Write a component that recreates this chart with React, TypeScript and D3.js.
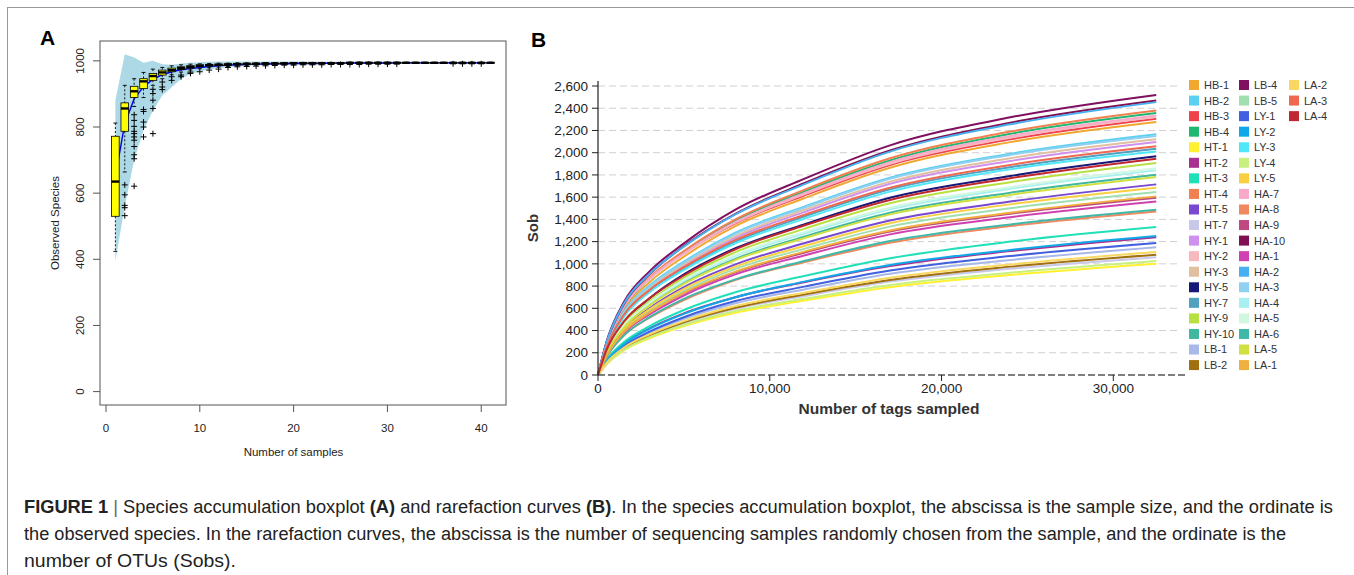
import React from 'react';
import * as d3 from 'd3';

// ---------- Panel A: species accumulation boxplot ----------
const sampleCounts = [1,2,3,4,5,6,7,8,9,10,11,12,13,14,15,16,17,18,19,20,21,22,23,24,25,26,27,28,29,30,31,32,33,34,35,36,37,38,39,40,41];
const boxLow = [424,664,862,889,926,946,958,966,972,976,979,981,983,985,986,987,988,988,989,989,990,990,990,990,991,991,991,991,991,991,992,992,992,992,992,992,992,993,993,993,993];
const boxQ1 = [530,787,889,916,941,957,967,974,978,982,984,986,987,988,989,990,990,991,991,992,992,992,992,992,993,993,993,993,993,993,993,993,993,993,993,993,994,994,994,994,994];
const boxMedian = [635,856,908,938,954,965,972,978,982,985,987,988,989,990,991,991,992,992,992,993,993,993,993,993,993,994,994,994,994,994,994,994,994,994,994,994,994,994,994,994,994];
const boxQ3 = [772,873,923,946,962,972,978,982,985,988,989,990,991,992,992,993,993,993,994,994,994,994,994,994,994,995,995,995,995,995,995,995,995,995,995,995,995,995,995,995,995];
const boxHigh = [812,926,946,965,975,980,985,988,990,991,992,993,993,994,994,994,995,995,995,995,995,995,995,995,995,996,996,996,996,996,996,996,996,996,996,996,996,996,996,996,996];
const meanCurve = [650,810,885,922,944,958,967,973,977,980,983,985,987,988,989,990,990,991,991,992,992,992,992,993,993,993,993,993,993,993,994,994,994,994,994,994,994,994,994,994,994];
const bandUpper = [880,1020,1010,994,1000,990,988,992,994,996,997,998,998,998,998,998,998,998,998,998,998,997,997,997,997,997,997,997,997,997,997,997,997,997,996,996,996,996,996,996,996];
const bandLower = [395,560,700,790,850,895,920,945,960,968,974,978,981,983,985,986,987,988,989,989,990,990,990,991,991,991,991,991,992,992,992,992,992,992,993,993,993,993,993,993,993];
const outlierN = [2,2,2,2,2, 3,3,3,3,3,3,3,3,3,3,3, 4,4,4,4,4, 5,5,5,5,5, 6,6,6, 7,7, 8,8, 9,9, 10, 11, 12, 13,14,15,16,17,18,19,20,21,22,23,24,25,26,27,28,29,30,31, 37,38,39,40];
const outlierValue = [625,595,563,556,532, 837,820,802,787,780,770,760,741,716,704,621, 853,847,815,800,770, 914,901,881,856,780, 936,921,913, 952,941, 957,952, 962,966, 967, 972, 975, 980,982,983,984,985,986,987,987,988,988,988,989,989,989,989,990,990,990,990, 991,991,991,991];
const aYTicks = [0,200,400,600,800,1000];
const aXTicks = [0,10,20,30,40];

// ---------- Panel B: rarefaction curves ----------
const tagSteps = [0,500,1500,3000,5000,8000,12000,17000,24000,32500];
const sampleNames = ['HB-1','HB-2','HB-3','HB-4','HT-1','HT-2','HT-3','HT-4','HT-5','HT-7','HY-1','HY-2','HY-3','HY-5','HY-7','HY-9','HY-10','LB-1','LB-2','LB-4','LB-5','LY-1','LY-2','LY-3','LY-4','LY-5','HA-7','HA-8','HA-9','HA-10','HA-1','HA-2','HA-3','HA-4','HA-5','HA-6','LA-5','LA-1','LA-2','LA-3','LA-4'];
const sampleColors = ['#F0A830','#5BD0F0','#F0404A','#20B870','#FFF030','#A83090','#20E0B8','#F08050','#7848D0','#C8C8E8','#D090F0','#F8B8C0','#E0C0A0','#181878','#50A0C0','#B8E040','#40B8A0','#A8B8E8','#A07010','#801060','#A0E0B0','#4060E0','#10A8E8','#50E8F8','#C8F080','#F8D040','#F8A8C8','#F08860','#C04880','#801050','#D040B0','#48B0F0','#90D0F0','#A8F0F0','#D0F8E0','#40B8A8','#D0E040','#F0B040','#F8D860','#F06850','#C02830'];
const sobValues = [
  [0,265,585,835,1065,1340,1590,1865,2095,2276], // HB-1
  [0,260,565,805,1020,1280,1515,1775,1990,2165], // HB-2
  [0,290,620,870,1095,1365,1615,1890,2120,2306], // HB-3
  [0,275,605,865,1105,1390,1650,1930,2170,2357], // HB-4
  [0,95,220,330,440,560,670,790,900,1001],       // HT-1
  [0,130,280,420,555,700,835,980,1115,1240],     // HT-2
  [0,135,295,440,585,745,890,1050,1200,1331],    // HT-3
  [0,280,615,875,1115,1400,1665,1950,2190,2380], // HT-4
  [0,190,410,600,790,995,1185,1390,1560,1715],   // HT-5
  [0,100,230,350,465,595,710,840,955,1060],      // HT-7
  [0,245,540,775,985,1235,1465,1720,1925,2096],  // HY-1
  [0,285,615,865,1090,1370,1625,1900,2135,2320], // HY-2
  [0,250,550,785,995,1250,1485,1740,1950,2120],  // HY-3
  [0,215,470,690,905,1140,1355,1595,1790,1967],  // HY-5
  [0,240,530,755,955,1200,1425,1670,1870,2036],  // HY-7
  [0,210,460,665,875,1105,1315,1545,1735,1907],  // HY-9
  [0,200,430,630,830,1045,1245,1460,1640,1802],  // HY-10
  [0,110,250,380,505,645,770,910,1035,1150],     // LB-1
  [0,105,235,355,475,605,725,855,975,1082],      // LB-2
  [0,302,655,932,1184,1487,1764,2066,2318,2520], // LB-4
  [0,180,395,575,755,955,1135,1335,1500,1646],   // LB-5
  [0,120,260,390,520,665,795,940,1070,1187],     // LY-1
  [0,125,275,415,550,700,840,990,1125,1250],     // LY-2
  [0,235,520,745,945,1185,1405,1650,1850,2010],  // LY-3
  [0,100,225,340,450,575,685,810,920,1025],      // LY-4
  [0,185,405,590,775,975,1160,1365,1535,1685],   // LY-5
  [0,280,610,865,1095,1375,1635,1915,2150,2335], // HA-7
  [0,160,355,515,675,855,1015,1190,1340,1472],   // HA-8
  [0,180,385,560,735,925,1100,1290,1450,1595],   // HA-9
  [0,290,635,905,1160,1450,1725,2020,2270,2470], // HA-10
  [0,170,375,545,715,905,1075,1265,1420,1560],   // HA-1
  [0,295,640,910,1155,1445,1715,2010,2255,2455], // HA-2
  [0,255,560,795,1010,1270,1505,1765,1980,2150], // HA-3
  [0,200,440,645,845,1070,1270,1490,1675,1841],  // HA-4
  [0,205,445,650,855,1080,1285,1505,1690,1860],  // HA-5
  [0,165,355,520,685,860,1025,1205,1355,1487],   // HA-6
  [0,195,425,625,820,1035,1230,1445,1620,1781],  // LA-5
  [0,175,385,560,740,930,1110,1300,1460,1607],   // LA-1
  [0,110,245,365,485,620,740,875,995,1106],      // LA-2
  [0,250,540,765,970,1215,1440,1685,1890,2057],  // LA-3
  [0,225,480,690,895,1130,1345,1575,1770,1946],  // LA-4
];
const bYTicks = [0,200,400,600,800,1000,1200,1400,1600,1800,2000,2200,2400,2600];
const bXTicks = [0,10000,20000,30000];

const FONT = "'Liberation Sans', Arial, Helvetica, sans-serif";

function PanelA() {
  const x = d3.scaleLinear().domain([-0.64, 42.64]).range([100, 506]);
  const y = d3.scaleLinear().domain([-40.5, 1060]).range([405, 41]);
  const band = d3.area<number>()
    .x((_, i) => x(sampleCounts[i]))
    .y0((_, i) => y(bandLower[i]))
    .y1((_, i) => y(bandUpper[i]));
  const meanLine = d3.line<number>().x((_, i) => x(sampleCounts[i])).y(d => y(d));
  const bw = 7.6;
  return (
    <g>
      <text x={40} y={45} fontFamily={FONT} fontWeight="bold" fontSize={21}>A</text>
      <path d={band(bandUpper) || ''} fill="#ADD8E6" stroke="none" />
      <path d={meanLine(meanCurve) || ''} fill="none" stroke="#0000EE" strokeWidth={1.4} />
      {sampleCounts.map((n, i) => {
        const cx = x(n);
        return (
          <g key={n}>
            <line x1={cx} x2={cx} y1={y(boxHigh[i])} y2={y(boxQ3[i])} stroke="#000" strokeWidth={0.9} strokeDasharray="2,2" />
            <line x1={cx} x2={cx} y1={y(boxQ1[i])} y2={y(boxLow[i])} stroke="#000" strokeWidth={0.9} strokeDasharray="2,2" />
            <line x1={cx - 2} x2={cx + 2} y1={y(boxHigh[i])} y2={y(boxHigh[i])} stroke="#000" strokeWidth={0.9} />
            <line x1={cx - 2} x2={cx + 2} y1={y(boxLow[i])} y2={y(boxLow[i])} stroke="#000" strokeWidth={0.9} />
            <rect x={cx - bw / 2} y={y(boxQ3[i])} width={bw} height={Math.max(0.5, y(boxQ1[i]) - y(boxQ3[i]))} fill="#FFFF00" stroke="#000" strokeWidth={0.8} />
            <line x1={cx - bw / 2} x2={cx + bw / 2} y1={y(boxMedian[i])} y2={y(boxMedian[i])} stroke="#000" strokeWidth={2.4} />
          </g>
        );
      })}
      {outlierN.map((n, i) => {
        const cx = x(n), cy = y(outlierValue[i]);
        return (
          <path key={i} d={`M${cx - 3},${cy}H${cx + 3}M${cx},${cy - 3}V${cy + 3}`} stroke="#000" strokeWidth={1} />
        );
      })}
      <rect x={100} y={41} width={406} height={364} fill="none" stroke="#555" strokeWidth={1} />
      {aYTicks.map(t => (
        <g key={t}>
          <line x1={93} x2={100} y1={y(t)} y2={y(t)} stroke="#555" />
          <text transform={`translate(83.5,${y(t)}) rotate(-90)`} textAnchor="middle" fontFamily={FONT} fontSize={11.5} fill="#222">{t}</text>
        </g>
      ))}
      {aXTicks.map(t => (
        <g key={t}>
          <line x1={x(t)} x2={x(t)} y1={405} y2={412} stroke="#555" />
          <text x={x(t)} y={431.5} textAnchor="middle" fontFamily={FONT} fontSize={11.5} fill="#222">{t}</text>
        </g>
      ))}
      <text x={293.5} y={455.5} textAnchor="middle" fontFamily={FONT} fontSize={11.5} fill="#222">Number of samples</text>
      <text transform="translate(58.5,223) rotate(-90)" textAnchor="middle" fontFamily={FONT} fontSize={11.5} fill="#222">Observed Species</text>
    </g>
  );
}

function PanelB() {
  const x = d3.scaleLinear().domain([0, 30000]).range([598, 1113.3]);
  const y = d3.scaleLinear().domain([0, 2600]).range([375, 86]);
  const line = d3.line<number>()
    .x((_, i) => x(tagSteps[i]))
    .y(d => y(d))
    .curve(d3.curveMonotoneX);
  const fmt = d3.format(',');
  const rowH = 15.56;
  return (
    <g>
      <text x={531} y={47} fontFamily={FONT} fontWeight="bold" fontSize={21}>B</text>
      {bYTicks.filter(t => t > 0).map(t => (
        <line key={t} x1={598} x2={1180} y1={y(t)} y2={y(t)} stroke="#D0D0D0" strokeWidth={1} strokeDasharray="7,4" />
      ))}
      {sobValues.map((vals, i) => (
        <path key={sampleNames[i]} d={line(vals) || ''} fill="none" stroke={sampleColors[i]} strokeWidth={2} />
      ))}
      <line x1={598} x2={1185} y1={375} y2={375} stroke="#555" strokeWidth={1.5} strokeDasharray="7,3" />
      <line x1={598} x2={598} y1={81} y2={375} stroke="#222" strokeWidth={1.2} />
      {bYTicks.map(t => (
        <g key={t}>
          <line x1={592} x2={598} y1={y(t)} y2={y(t)} stroke="#222" />
          <text x={588} y={y(t)} dy="0.35em" textAnchor="end" fontFamily={FONT} fontSize={13.5} fill="#222">{fmt(t)}</text>
        </g>
      ))}
      {bXTicks.map(t => (
        <g key={t}>
          <line x1={x(t)} x2={x(t)} y1={375} y2={381} stroke="#222" />
          <text x={x(t)} y={393} textAnchor="middle" fontFamily={FONT} fontSize={13.5} fill="#222">{fmt(t)}</text>
        </g>
      ))}
      <text x={889} y={414} textAnchor="middle" fontFamily={FONT} fontWeight="bold" fontSize={15.5} fill="#333">Number of tags sampled</text>
      <text transform="translate(538,228) rotate(-90)" textAnchor="middle" fontFamily={FONT} fontWeight="bold" fontSize={15} fill="#333">Sob</text>
      {sampleNames.map((name, i) => {
        const col = Math.floor(i / 19);
        const row = i % 19;
        const sx = 1189 + col * 50;
        const cy = 85 + row * rowH;
        return (
          <g key={name}>
            <rect x={sx} y={cy - 5} width={10} height={10} fill={sampleColors[i]} />
            <text x={sx + 15} y={cy} dy="0.36em" fontFamily={FONT} fontSize={11} fill="#333">{name}</text>
          </g>
        );
      })}
    </g>
  );
}

function Caption() {
  return (
    <g fontFamily={FONT} fontSize={18} fill="#222">
      <text x={24} y={513} textLength={1309} lengthAdjust="spacingAndGlyphs">
        <tspan fontWeight="bold">FIGURE 1</tspan>
        <tspan fill="#666"> | </tspan>
        <tspan>Species accumulation boxplot </tspan>
        <tspan fontWeight="bold">(A)</tspan>
        <tspan> and rarefaction curves </tspan>
        <tspan fontWeight="bold">(B)</tspan>
        <tspan>. In the species accumulation boxplot, the abscissa is the sample size, and the ordinate is</tspan>
      </text>
      <text x={24} y={540} textLength={1262} lengthAdjust="spacingAndGlyphs">the observed species. In the rarefaction curves, the abscissa is the number of sequencing samples randomly chosen from the sample, and the ordinate is the</text>
      <text x={24} y={567} textLength={212} lengthAdjust="spacingAndGlyphs">number of OTUs (Sobs).</text>
    </g>
  );
}

export default function App() {
  return (
    <svg width={1354} height={575} viewBox="0 0 1354 575" style={{ position: 'absolute', left: 0, top: 0, background: '#fff' }}>
      <rect x={0} y={0} width={1354} height={575} fill="#fff" />
      <line x1={7} x2={1354} y1={7.5} y2={7.5} stroke="#999" strokeWidth={1} />
      <line x1={7.5} x2={7.5} y1={7} y2={575} stroke="#999" strokeWidth={1} />
      <PanelA />
      <PanelB />
      <Caption />
    </svg>
  );
}
